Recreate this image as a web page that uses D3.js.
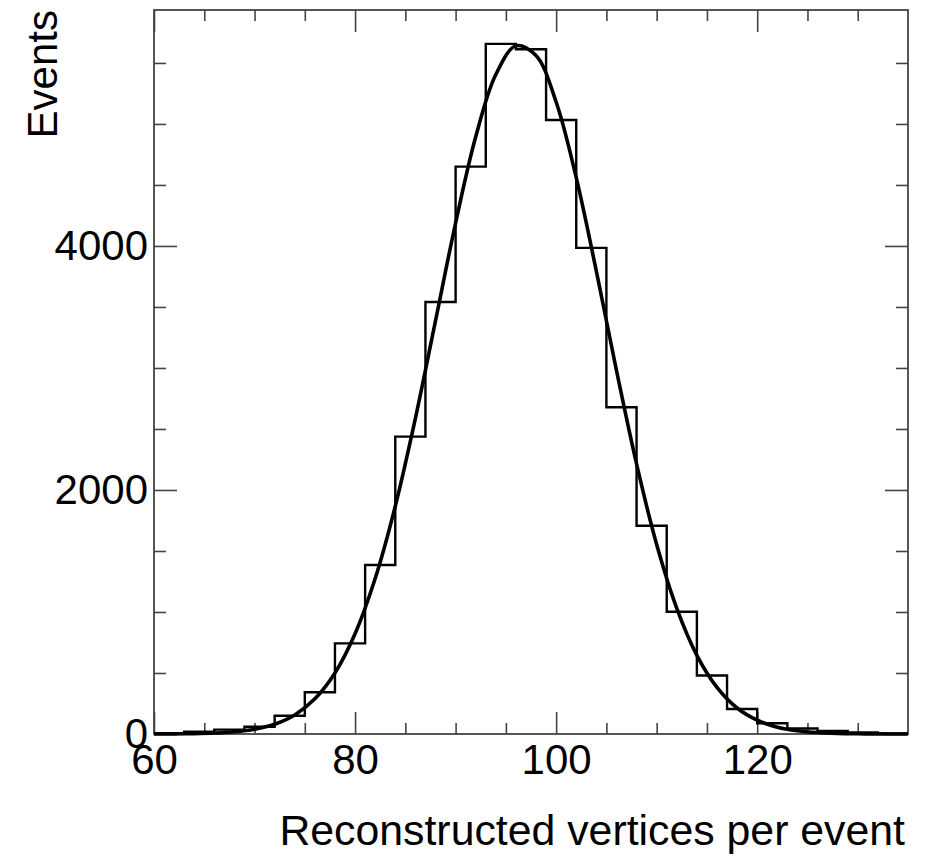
<!DOCTYPE html>
<html>
<head>
<meta charset="utf-8">
<script src="https://cdn.jsdelivr.net/npm/d3@7"></script>
<style>
  body { margin: 0; background: #fff; }
  text { font-family: "Liberation Sans", Arial, sans-serif; fill: #000; }
</style>
</head>
<body>
<div id="chart-container"></div>
<script>
// Histogram bins: lower edges (width 3) and counts.
const binEdges = [60, 63, 66, 69, 72, 75, 78, 81, 84, 87, 90, 93, 96, 99, 102, 105, 108, 111, 114, 117, 120, 123, 126, 129, 132, 135];
const binCounts = [6, 18, 36, 60, 150, 342, 743, 1385, 2437, 3541, 4650, 5656, 5612, 5033, 3984, 2678, 1707, 1002, 480, 205, 88, 45, 24, 12, 5];

// Fit curve at every 2 units.
const fitX = [60, 62, 64, 66, 68, 70, 72, 74, 76, 78, 80, 82, 84, 86, 88, 90, 92, 94, 96, 98,
    100, 102, 104, 106, 108, 110, 112, 114, 116, 118, 120, 122, 124, 126, 128, 130, 132, 134, 135];
const fitY = [0.5, 1, 3, 8, 18, 39, 80, 156, 288, 500, 821, 1274, 1867, 2587, 3386, 4188, 4895, 5405, 5640, 5561,
    5180, 4560, 3793, 2981, 2214, 1553, 1030, 645, 382, 213, 113, 56, 27, 12, 5, 2, 0.7, 0.3, 0.2];

const xMajorTicks = [60, 80, 100, 120];
const xMinorTicks = [65, 70, 75, 85, 90, 95, 105, 110, 115, 125, 130];
const yMajorTicks = [0, 2000, 4000];
const yMinorTicks = [500, 1000, 1500, 2500, 3000, 3500, 4500, 5000, 5500];

const chartWidth = 925;
const chartHeight = 858;
const frameLeft = 154;
const frameRight = 908;
const frameTop = 10;
const frameBottom = 734;

const axisColor = "#444";

const x = d3.scaleLinear()
    .domain([60, 135])
    .range([frameLeft, frameRight]);

const y = d3.scaleLinear()
    .domain([0, 5934])
    .range([frameBottom, frameTop]);

const chart = d3.select("#chart-container").append("svg")
    .attr("width", chartWidth)
    .attr("height", chartHeight);

function styleAxis(g) {
    g.select(".domain").remove();
    g.selectAll(".tick line").attr("stroke", axisColor).attr("stroke-width", 1.6);
    g.selectAll(".tick text")
        .style("font-family", "'Liberation Sans', Arial, sans-serif")
        .style("font-size", "42px")
        .attr("fill", "#000");
}

// bottom axis, major + minor
chart.append("g")
    .attr("transform", `translate(0, ${frameBottom})`)
    .call(d3.axisBottom(x).tickValues(xMajorTicks).tickSize(-22).tickPadding(10).tickFormat(d3.format("d")))
    .call(styleAxis);
chart.append("g")
    .attr("transform", `translate(0, ${frameBottom})`)
    .call(d3.axisBottom(x).tickValues(xMinorTicks).tickSize(-11).tickFormat(""))
    .call(styleAxis);

// top axis (ticks only)
chart.append("g")
    .attr("transform", `translate(0, ${frameTop})`)
    .call(d3.axisTop(x).tickValues(xMajorTicks).tickSize(-22).tickFormat(""))
    .call(styleAxis);
chart.append("g")
    .attr("transform", `translate(0, ${frameTop})`)
    .call(d3.axisTop(x).tickValues(xMinorTicks).tickSize(-11).tickFormat(""))
    .call(styleAxis);

// left axis
chart.append("g")
    .attr("transform", `translate(${frameLeft}, 0)`)
    .call(d3.axisLeft(y).tickValues(yMajorTicks).tickSize(-23).tickPadding(6).tickFormat(d3.format("d")))
    .call(styleAxis);
chart.append("g")
    .attr("transform", `translate(${frameLeft}, 0)`)
    .call(d3.axisLeft(y).tickValues(yMinorTicks).tickSize(-12).tickFormat(""))
    .call(styleAxis);

// right axis (ticks only)
chart.append("g")
    .attr("transform", `translate(${frameRight}, 0)`)
    .call(d3.axisRight(y).tickValues(yMajorTicks).tickSize(-23).tickFormat(""))
    .call(styleAxis);
chart.append("g")
    .attr("transform", `translate(${frameRight}, 0)`)
    .call(d3.axisRight(y).tickValues(yMinorTicks).tickSize(-12).tickFormat(""))
    .call(styleAxis);

// frame
chart.append("rect")
    .attr("x", frameLeft)
    .attr("y", frameTop)
    .attr("width", frameRight - frameLeft)
    .attr("height", frameBottom - frameTop)
    .attr("fill", "none")
    .attr("stroke", axisColor)
    .attr("stroke-width", 1.8);

// histogram as steps
const histPoints = binCounts.map((c, i) => [binEdges[i], c]);
histPoints.push([binEdges[binEdges.length - 1], binCounts[binCounts.length - 1]]);

chart.append("path")
    .datum(histPoints)
    .attr("fill", "none")
    .attr("stroke", "#000")
    .attr("stroke-width", 2.4)
    .attr("d", d3.line()
        .x(d => x(d[0]))
        .y(d => y(d[1]))
        .curve(d3.curveStepAfter));

// fit curve
chart.append("path")
    .datum(fitX.map((v, i) => [v, fitY[i]]))
    .attr("fill", "none")
    .attr("stroke", "#000")
    .attr("stroke-width", 3.6)
    .attr("stroke-linejoin", "round")
    .attr("d", d3.line()
        .x(d => x(d[0]))
        .y(d => y(d[1]))
        .curve(d3.curveCatmullRom));

// axis titles
chart.append("text")
    .attr("x", 905)
    .attr("y", 845)
    .attr("text-anchor", "end")
    .style("font-size", "42.8px")
    .text("Reconstructed vertices per event");

chart.append("text")
    .attr("transform", "translate(57, 10) rotate(-90)")
    .attr("text-anchor", "end")
    .style("font-size", "42px")
    .text("Events");
</script>
</body>
</html>
